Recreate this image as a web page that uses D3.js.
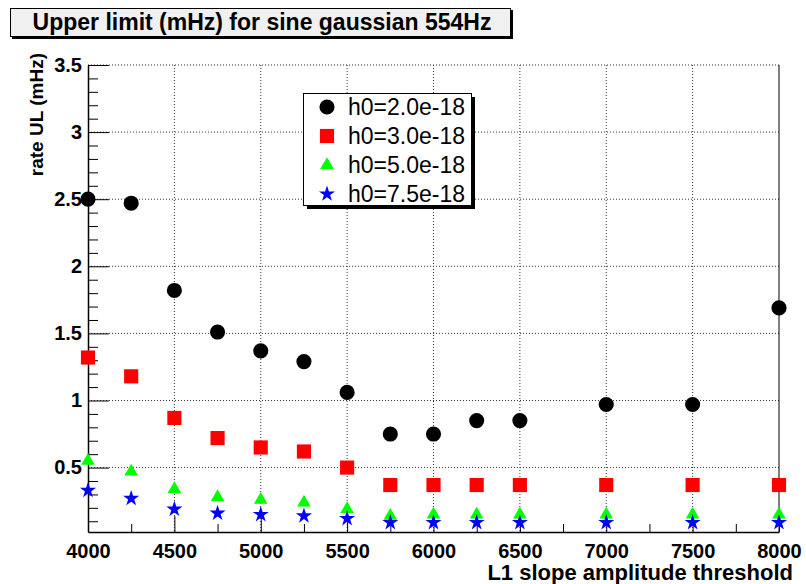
<!DOCTYPE html>
<html>
<head>
<meta charset="utf-8">
<script src="https://cdn.jsdelivr.net/npm/d3@7"></script>
<style>
  body { margin: 0; background: #fff; }
  text { font-family: "Liberation Sans", Arial, sans-serif; }
</style>
</head>
<body>
<div id="root"></div>
<script>
// Thresholds on the x axis
const thresholds = [4000, 4250, 4500, 4750, 5000, 5250, 5500, 5750, 6000, 6250, 6500, 7000, 7500, 8000];

// Upper limits (mHz) for each injected amplitude
const ulH20 = [2.50, 2.47, 1.82, 1.51, 1.37, 1.29, 1.06, 0.75, 0.75, 0.85, 0.85, 0.97, 0.97, 1.69];
const ulH30 = [1.32, 1.18, 0.87, 0.72, 0.65, 0.62, 0.50, 0.37, 0.37, 0.37, 0.37, 0.37, 0.37, 0.37];
const ulH50 = [0.55, 0.47, 0.34, 0.28, 0.26, 0.24, 0.19, 0.14, 0.15, 0.15, 0.15, 0.15, 0.15, 0.15];
const ulH75 = [0.33, 0.27, 0.19, 0.16, 0.15, 0.14, 0.12, 0.09, 0.09, 0.09, 0.09, 0.09, 0.09, 0.09];

const seriesNames = ["h0=2.0e-18", "h0=3.0e-18", "h0=5.0e-18", "h0=7.5e-18"];

const xTicks = [4000, 4500, 5000, 5500, 6000, 6500, 7000, 7500, 8000];
const xMinorTicks = [4250, 4750, 5250, 5750, 6250, 6750, 7250, 7750];
const yTicks = [0.5, 1, 1.5, 2, 2.5, 3, 3.5];

const titleText = "Upper limit (mHz) for sine gaussian 554Hz";
const xTitle = "L1 slope amplitude threshold";
const yTitle = "rate UL (mHz)";

// chart frame
var W = 806, H = 584;
var frame = { left: 88, right: 779, top: 65, bottom: 532 };

var svg = d3.select("#root")
  .append("svg")
  .attr("width", W)
  .attr("height", H);

var xScale = d3.scaleLinear().domain([4000, 8000]).range([frame.left, frame.right]);
var yScale = d3.scaleLinear().domain([0.02, 3.5]).range([frame.bottom, frame.top]);

// dotted grid
var grid = svg.append("g").attr("stroke", "#333").attr("stroke-dasharray", "1,2");
grid.selectAll(".vgrid")
  .data(xTicks.slice(1, -1))
  .enter().append("line")
  .attr("x1", d => xScale(d)).attr("x2", d => xScale(d))
  .attr("y1", frame.top).attr("y2", frame.bottom);
grid.selectAll(".hgrid")
  .data(yTicks)
  .enter().append("line")
  .attr("x1", frame.left).attr("x2", frame.right)
  .attr("y1", d => yScale(d)).attr("y2", d => yScale(d));

// right frame edge
svg.append("line")
  .attr("x1", frame.right).attr("x2", frame.right)
  .attr("y1", frame.top).attr("y2", frame.bottom)
  .attr("stroke", "#000");

// x axis, ticks pointing inward
var xAxis = svg.append("g")
  .attr("transform", `translate(0,${frame.bottom})`)
  .call(d3.axisBottom(xScale).tickValues(xTicks).tickSize(-16).tickSizeOuter(0).tickPadding(22)
    .tickFormat(d3.format("d")));
svg.append("g")
  .attr("transform", `translate(0,${frame.bottom})`)
  .call(d3.axisBottom(xScale).tickValues(xMinorTicks).tickSize(-8).tickSizeOuter(0).tickFormat(""))
  .select(".domain").remove();
xAxis.selectAll("text")
  .attr("font-size", 20).attr("font-weight", "bold").attr("fill", "#000")
  .attr("dy", "0.2em");

// y axis, ticks pointing inward
var yMinor = d3.range(1, 35).map(d => d / 10).filter(d => !yTicks.includes(d));
var yAxis = svg.append("g")
  .attr("transform", `translate(${frame.left},0)`)
  .call(d3.axisLeft(yScale).tickValues(yTicks).tickSize(-21).tickSizeOuter(0).tickPadding(6)
    .tickFormat(d3.format("")));
svg.append("g")
  .attr("transform", `translate(${frame.left},0)`)
  .call(d3.axisLeft(yScale).tickValues(yMinor).tickSize(-10).tickSizeOuter(0).tickFormat(""))
  .select(".domain").remove();
yAxis.selectAll("text")
  .attr("font-size", 20).attr("font-weight", "bold").attr("fill", "#000");
svg.selectAll(".domain").attr("stroke-width", 1.5);

// axis titles
svg.append("text")
  .attr("x", 793).attr("y", 580)
  .attr("text-anchor", "end")
  .attr("font-size", 22).attr("font-weight", "bold")
  .text(xTitle);
svg.append("text")
  .attr("transform", "translate(43,53) rotate(-90)")
  .attr("text-anchor", "end")
  .attr("font-size", 19).attr("font-weight", "bold")
  .text(yTitle);

// markers
var series = [
  { name: seriesNames[0], values: ulH20, color: "#000000", symbol: d3.symbolCircle, size: 180 },
  { name: seriesNames[1], values: ulH30, color: "#ff0000", symbol: d3.symbolSquare, size: 200 },
  { name: seriesNames[2], values: ulH50, color: "#00ff00", symbol: d3.symbolTriangle, size: 80 },
  { name: seriesNames[3], values: ulH75, color: "#0000ff", symbol: d3.symbolStar, size: 80 }
];

series.forEach(function (s) {
  svg.append("g")
    .selectAll("path")
    .data(thresholds.map((t, i) => ({ x: t, y: s.values[i] })))
    .enter().append("path")
    .attr("transform", d => `translate(${xScale(d.x)},${yScale(d.y)})`)
    .attr("d", d3.symbol().type(s.symbol).size(s.size))
    .attr("fill", s.color);
});

// legend box with shadow
var legend = svg.append("g").attr("transform", "translate(303,93)");
legend.append("rect").attr("x", 4).attr("y", 4).attr("width", 168).attr("height", 112).attr("fill", "#000");
legend.append("rect").attr("x", 0.5).attr("y", 0.5).attr("width", 168).attr("height", 112)
  .attr("fill", "#fff").attr("stroke", "#000");
series.forEach(function (s, i) {
  var yy = 14 + i * 29;
  legend.append("path")
    .attr("transform", `translate(24,${yy})`)
    .attr("d", d3.symbol().type(s.symbol).size(s.size))
    .attr("fill", s.color);
  legend.append("text")
    .attr("x", 45).attr("y", yy + 8)
    .attr("font-size", 23)
    .text(s.name);
});

// title box
svg.append("rect").attr("x", 12).attr("y", 10).attr("width", 501).attr("height", 29).attr("fill", "#000");
svg.append("rect").attr("x", 10.5).attr("y", 8.5).attr("width", 500).attr("height", 28)
  .attr("fill", "#f0f0f0").attr("stroke", "#000");
svg.append("text")
  .attr("x", 262).attr("y", 30)
  .attr("text-anchor", "middle")
  .attr("font-size", 23).attr("font-weight", "bold")
  .text(titleText);
</script>
</body>
</html>
